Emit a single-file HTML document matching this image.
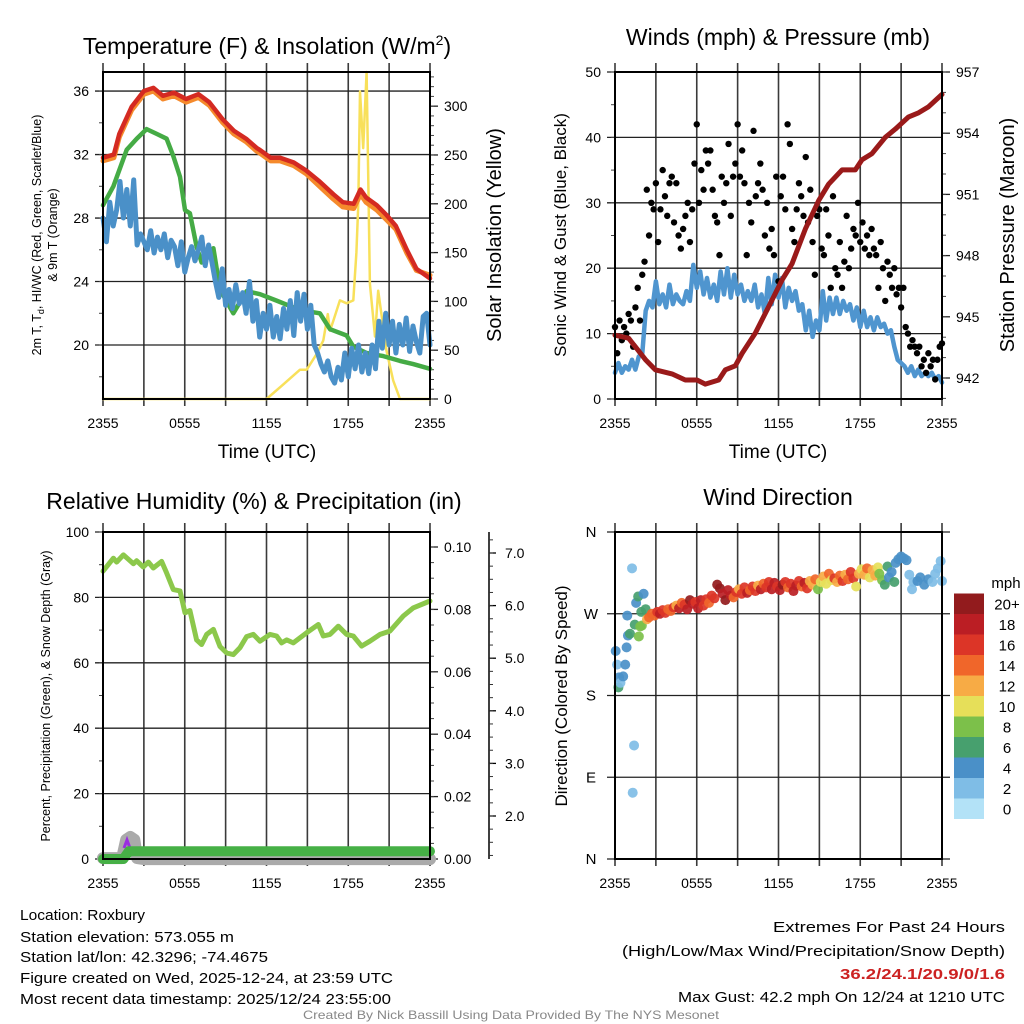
<!DOCTYPE html>
<html><head><meta charset="utf-8"><style>
html,body{margin:0;padding:0;background:#fff;}
svg{display:block;font-family:"Liberation Sans",Arial,sans-serif;}
</style></head><body>
<svg id="fig" width="1024" height="1024" viewBox="0 0 1024 1024" xmlns="http://www.w3.org/2000/svg">
<rect width="1024" height="1024" fill="#fff"/>
<text x="267" y="54" font-size="23" text-anchor="middle">Temperature (F) &amp; Insolation (W/m<tspan font-size="14" dy="-9">2</tspan><tspan dy="9">)</tspan></text>
<text x="778" y="45" font-size="23" text-anchor="middle">Winds (mph) &amp; Pressure (mb)</text>
<text x="254" y="509" font-size="23" text-anchor="middle">Relative Humidity (%) &amp; Precipitation (in)</text>
<text x="778" y="505" font-size="23" text-anchor="middle">Wind Direction</text>
<text x="267" y="458" font-size="19" text-anchor="middle">Time (UTC)</text>
<text x="778" y="458" font-size="19" text-anchor="middle">Time (UTC)</text>
<text transform="translate(41,235) rotate(-90)" font-size="12.5" text-anchor="middle">2m T, T<tspan font-size="9" dy="3">d</tspan><tspan dy="-3">, HI/WC (Red, Green, Scarlet/Blue)</tspan></text>
<text transform="translate(57,235) rotate(-90)" font-size="12.5" text-anchor="middle">&amp; 9m T (Orange)</text>
<text transform="translate(501,235) rotate(-90)" font-size="20" text-anchor="middle">Solar Insolation (Yellow)</text>
<text transform="translate(566,235) rotate(-90)" font-size="17" text-anchor="middle">Sonic Wind &amp; Gust (Blue, Black)</text>
<text transform="translate(1014,235) rotate(-90)" font-size="20" text-anchor="middle">Station Pressure (Maroon)</text>
<text transform="translate(50,696) rotate(-90)" font-size="12.5" text-anchor="middle">Percent, Precipitation (Green), &amp; Snow Depth (Gray)</text>
<text transform="translate(567,696) rotate(-90)" font-size="17" text-anchor="middle">Direction (Colored By Speed)</text>
<text x="20" y="920" font-size="15" textLength="125" lengthAdjust="spacingAndGlyphs">Location: Roxbury</text>
<text x="20" y="942" font-size="15" textLength="214" lengthAdjust="spacingAndGlyphs">Station elevation: 573.055 m</text>
<text x="20" y="962" font-size="15" textLength="248" lengthAdjust="spacingAndGlyphs">Station lat/lon: 42.3296; -74.4675</text>
<text x="20" y="983" font-size="15" textLength="373" lengthAdjust="spacingAndGlyphs">Figure created on Wed, 2025-12-24, at 23:59 UTC</text>
<text x="20" y="1004" font-size="15" textLength="371" lengthAdjust="spacingAndGlyphs">Most recent data timestamp: 2025/12/24 23:55:00</text>
<text x="1005" y="932" font-size="15" text-anchor="end" textLength="232" lengthAdjust="spacingAndGlyphs">Extremes For Past 24 Hours</text>
<text x="1005" y="956" font-size="15" text-anchor="end" textLength="383" lengthAdjust="spacingAndGlyphs">(High/Low/Max Wind/Precipitation/Snow Depth)</text>
<text x="1005" y="979" font-size="15" font-weight="bold" fill="#cc2222" text-anchor="end" textLength="165" lengthAdjust="spacingAndGlyphs">36.2/24.1/20.9/0/1.6</text>
<text x="1005" y="1002" font-size="15" text-anchor="end" textLength="327" lengthAdjust="spacingAndGlyphs">Max Gust: 42.2 mph On 12/24 at 1210 UTC</text>
<text x="511" y="1019" font-size="12" fill="#888" text-anchor="middle" textLength="416" lengthAdjust="spacingAndGlyphs">Created By Nick Bassill Using Data Provided By The NYS Mesonet</text>
</svg>
<script>
// ---------- data ----------
const xTickLabels = ["2355","0555","1155","1755","2355"];
const tempHours = [0,0.8,1.2,2.1,3.0,3.7,4.4,5.2,6.1,7.0,7.8,8.8,9.6,10.5,11.3,11.5,12.3,13.0,14.0,14.9,15.9,16.9,17.6,18.4,18.9,19.3,20.1,20.8,21.5,22.3,23.0,24];
const tempRed = [31.8,32.0,33.3,35.0,36.0,36.2,35.7,35.9,35.5,35.8,35.3,34.2,33.5,33.0,32.4,32.3,31.8,31.8,31.5,31.0,30.3,29.5,29.0,28.9,29.8,29.3,28.8,28.2,27.5,26.0,24.8,24.2];
const temp9m = [31.6,31.8,33.1,34.8,35.8,36.0,35.5,35.7,35.3,35.6,35.1,34.0,33.3,32.8,32.2,32.1,31.6,31.6,31.3,30.8,30.0,29.2,28.7,28.6,29.5,29.0,28.5,27.9,27.3,25.8,24.7,24.4];
const greenHours = [0,0.76,1.74,2.47,3.2,3.94,4.67,5.16,5.65,6.02,6.38,6.87,7.24,8.1,8.59,9.56,10.54,11.52,12.74,14.46,15.92,16.66,17.88,18.37,19.35,20.57,21.79,22.77,24];
const greenHiWc = [28.8,30.0,32.3,33.0,33.6,33.3,33.0,31.9,30.6,28.5,28.3,26.2,25.2,26.1,23.5,22.0,23.4,23.2,22.8,22.2,22.0,21.0,20.6,19.9,19.5,19.3,19.0,18.8,18.5];
const dewpoint = [28.0,26.5,29.0,27.5,28.5,30.3,28.0,29.8,27.5,
30.4,26.3,27.0,26.5,26.0,27.2,25.8,26.8,
26.0,27.0,25.5,26.6,26.2,25.0,26.5,24.6,
25.5,26.2,25.3,26.0,26.8,25.0,26.3,25.2,
24.0,23.0,24.8,22.5,23.5,22.3,23.8,22.6,
23.3,22.0,24.0,21.5,22.8,20.5,22.0,21.0,
22.5,20.5,21.8,20.4,22.3,21.0,22.8,20.6,
23.3,21.5,23.2,21.0,22.5,20.0,19.5,18.8,
18.3,19.0,18.0,17.6,18.6,17.8,19.5,18.0,
19.8,18.5,20.0,18.3,19.5,18.2,20.0,18.5,
21.5,19.8,22.0,20.0,21.5,19.5,21.3,20.0,
21.7,19.6,21.2,20.2,19.5,21.8,22.0,20.0];
const solarHours = [0,12.0,13.23,14.46,14.95,15.68,16.17,16.5,16.66,16.9,17.39,17.88,18.37,18.6,18.74,18.86,19.1,19.35,19.59,19.96,20.2,20.8,21.3,21.8,24];
const solar = [0,0,15,30,30,46,60,87,70,80,101,98,101,150,200,315,257,335,118,64,111,50,19,0,0];
const sonicWind = [4,5.5,4,5,4.5,6,4.5,6.5,7,
13.5,15,14,18,14.5,16,14,17.5,
14.5,16,15,14.5,16.5,15,20.5,17,
19.5,16,18.5,15.5,17.5,15,19.5,16,
20,15.5,19,16,17.5,15,16.5,15,
17.5,14,16,13,18.5,14.5,19,15.5,
18.5,14,17,15,16.5,13.5,14.5,10.5,
13.5,9.5,12,10.5,16.5,12,15.5,13,
15.5,13,15,13.5,14.5,12,14,11,
13.5,11,12.5,10.5,12.5,11,11.5,10,
10.5,8,6,5.5,5,4,5,3.5,
4.5,3.5,4,3.5,4,3,3.5,2.5];
const gusts = [11,7,12,9,11,10, 13,12,8,14,17,12, 19,21,32,25,30,29, 33,24,29,35,31,28,
33,34,27,33,25,23, 26,28,30,24,29,36, 42,30,35,32,38,36, 38,32,28,27,22,34,
30,33,39,28,34,36, 42,34,38,33,22,30, 27,41,31,33,36,32, 25,30,23,26,22,34,
18,31,34,29,42,39, 26,24,29,33,31,28, 37,27,32,24,19,28, 29,23,22,29,25,17,
31,20,19,24,17,21, 28,20,23,26,25,30, 24,27,23,25,22,26, 23,22,17,24,20,15,
21,19,17,20,16,17, 14,17,11,10,8,9, 8,7,8,5,6,4, 7,5,6,3,6,8, 8.5];
const presHours = [0,1.0,2.23,2.96,4.18,5.16,6.02,6.63,7.61,8.1,8.83,9.32,10.3,11.28,12.26,12.99,13.97,14.95,15.68,16.66,17.64,18.13,18.86,19.84,20.57,21.55,22.28,23.02,24];
const pressure = [944.1,943.95,942.9,942.4,942.2,941.9,941.9,941.7,941.9,942.4,942.6,943.2,944.2,945.5,946.8,947.6,949.3,950.7,951.5,952.2,952.2,952.7,953.0,953.8,954.2,954.8,955.0,955.3,955.9];
const rhHours = [0,0.76,1.0,1.5,2.23,2.47,2.96,3.33,3.69,4.3,4.67,5.16,5.65,6.02,6.38,6.87,7.24,7.61,8.1,8.59,9.08,9.56,10.05,10.54,11.03,11.52,12.26,12.74,13.11,13.48,13.97,14.95,15.8,16.17,16.66,17.27,17.88,18.37,18.98,19.59,20.33,21.06,22.04,22.77,24];
const rh = [88,92,90.8,93,90.3,91.2,89.3,90.8,89,91,87.5,82.4,82,75.3,76,67,65.6,68.7,70.2,65,63,62.5,64.6,68,68.7,66.6,68.7,68.2,66.1,67,66.1,69.2,71.7,68.2,68.7,71.2,68.7,68.2,65.1,66.6,68.7,69.7,74.3,76.8,78.9];
const precipHours = [0,1.5,1.9,24];
const precip = [0,0,0.0025,0.0025];
const snowHours = [0,1.4,1.7,2.0,2.3,2.5,3.0,24];
const snowDepth = [1.2,1.2,1.55,1.6,1.55,1.2,1.18,1.18];
const dirHours = [0.05,0.15,0.3,0.25,0.4,0.6,0.75,0.85,0.95,1.1,1.25,1.4,1.3,0.9,1.45,1.55,1.7,1.75,1.85,1.97,1.93,2.1,2.25,2.35,
2.5,2.7,2.9,3.1,3.3,3.5,3.7,3.9,4.1,4.3,4.5,4.7,4.9,5.1,5.3,5.5,5.7,5.9,6.1,6.3,6.5,6.7,6.9,7.1,7.3,7.5,7.7,7.9,8.1,8.3,8.5,8.7,8.9,9.1,9.3,9.5,9.7,9.9,10.1,10.3,10.5,10.7,10.9,11.1,11.3,11.5,11.7,11.9,12.1,12.3,12.5,12.7,12.9,13.1,13.3,13.5,13.7,13.9,14.1,14.3,14.5,14.7,14.9,15.1,15.3,15.5,15.7,15.9,16.1,16.3,16.5,16.7,16.9,17.1,17.3,17.5,17.7,17.9,18.1,18.3,18.5,18.7,18.9,19.1,19.3,19.4,19.6,19.8,20.0,20.1,20.3,20.5,20.6,20.8,21.0,21.2,21.4,21.6,21.8,21.9,22.2,22.4,22.7,23.0,23.3,23.5,23.7,23.9,24.0];
const dirDeg = [229,214,200,189,194,201,214,233,246,248,320,125,73,268,258,282,289,245,256,257,272,292,275,264,
266,270,268,272,270,274,271,275,273,277,279,276,282,280,275,285,281,283,276,285,279,286,282,290,287,302,298,292,285,296,290,288,294,297,292,299,293,296,300,295,301,297,303,299,305,297,304,300,296,302,305,299,303,295,301,306,300,304,298,306,302,308,297,305,311,303,314,307,309,305,312,306,313,308,316,309,300,314,319,313,320,310,318,312,321,314,307,302,322,310,316,305,326,330,333,331,329,313,297,305,306,310,302,308,305,314,320,328,306];
const dirSpeed = [4,3,4,6,3,4,4,4,5,6,2,2,2,4,7,4,6,8,8,8,6,4,6,13,
14,14,15,16,18,16,17,15,14,16,13,18,15,17,19,20,18,16,18,19,17,16,15,17,16,20,20,19,20,18,19,15,16,13,17,16,18,14,16,17,13,18,15,17,16,18,19,17,18,20,16,14,16,19,18,17,15,18,16,13,12,14,8,10,13,10,14,11,16,13,14,16,12,15,16,17,10,13,11,12,15,10,13,12,10,8,8,6,6,4,4,6,4,4,4,4,4,2,2,2,4,4,4,4,2,2,2,2,2];
const speedLabels = ["0","2","4","6","8","10","12","14","16","18","20+"];
const speedColors = ["#b3e2f7","#7fbde6","#4a90c8","#47a06e","#7cc04a","#e6df59","#f7ab45","#f0662a","#dc3527","#bb1e24","#921b1d"];

// ---------- helpers ----------
const NS = "http://www.w3.org/2000/svg";
const svg = document.getElementById("fig");
function add(parent, tag, attrs, name) {
  const el = document.createElementNS(NS, tag);
  for (const k in attrs) el.setAttribute(k, attrs[k]);
  
  
  parent.appendChild(el);
  return el;
}
function group(name) {
  const g = document.createElementNS(NS, "g");
  
  
  svg.appendChild(g);
  return g;
}
function linScale(d0, d1, r0, r1) { return v => r0 + (v - d0) / (d1 - d0) * (r1 - r0); }
function fmt(v, dec) { return v.toFixed(dec); }

function frame(g, x0, y0, x1, y1) {
  const xs = linScale(0, 24, x0, x1);
  for (let i = 0; i <= 8; i++) {
    const x = xs(i * 3);
    add(g, "line", {x1: x, y1: y0 - 9, x2: x, y2: y1 + 7, stroke: "#3a3a3a", "stroke-width": 1.6}, "x-grid-line");
  }
  xTickLabels.forEach((lab, i) => {
    const t = add(g, "text", {x: xs(i * 6), y: y1 + 29, "font-size": 14, "text-anchor": "middle"}, "x-tick-label");
    t.textContent = lab;
  });
  return xs;
}
function leftAxis(g, x0, x1, ys, ticks, minors, dec) {
  ticks.forEach(v => {
    const y = ys(v);
    add(g, "line", {x1: x0 - 8, y1: y, x2: x1, y2: y, stroke: "#222", "stroke-width": 1.3}, "y-grid-line");
    const t = add(g, "text", {x: x0 - 14, y: y + 5, "font-size": 14, "text-anchor": "end"}, "y-tick-label");
    t.textContent = fmt(v, dec);
  });
  minors.forEach(v => {
    const y = ys(v);
    add(g, "line", {x1: x0 - 4, y1: y, x2: x0, y2: y, stroke: "#444", "stroke-width": 1}, "y-minor-tick");
  });
}
function rightAxis(g, x1, ys, ticks, minors, dec) {
  ticks.forEach(v => {
    const y = ys(v);
    add(g, "line", {x1: x1, y1: y, x2: x1 + 8, y2: y, stroke: "#222", "stroke-width": 1.3}, "right-major-tick");
    const t = add(g, "text", {x: x1 + 14, y: y + 5, "font-size": 14}, "right-tick-label");
    t.textContent = fmt(v, dec);
  });
  minors.forEach(v => {
    const y = ys(v);
    add(g, "line", {x1: x1, y1: y, x2: x1 + 4, y2: y, stroke: "#444", "stroke-width": 1}, "right-minor-tick");
  });
}
function range(a, b, s) { const r = []; for (let v = a; v <= b + 1e-9; v += s) r.push(+v.toFixed(6)); return r; }
function border(g, x0, y0, x1, y1) {
  add(g, "rect", {x: x0, y: y0, width: x1 - x0, height: y1 - y0, fill: "none", stroke: "#000", "stroke-width": 2}, "plot-frame");
}
function polyline(g, hours, vals, xs, ys, color, w, name) {
  const pts = hours.map((h, i) => xs(h).toFixed(1) + "," + ys(vals[i]).toFixed(1)).join(" ");
  add(g, "polyline", {points: pts, fill: "none", stroke: color, "stroke-width": w, "stroke-linejoin": "round", "stroke-linecap": "round"}, name);
}
function idxHours(arr) { return arr.map((_, i) => i * 24 / (arr.length - 1)); }

// ---------- Panel 1: Temperature ----------
(function () {
  const g = group("temperature-chart");
  const x0 = 103, x1 = 430, y0 = 72, y1 = 399;
  const xs = frame(g, x0, y0, x1, y1);
  const ys = linScale(16.6, 37.2, y1, y0);
  const ysR = linScale(0, 335, y1, y0);
  leftAxis(g, x0, x1, ys, [20, 24, 28, 32, 36], range(18, 36, 2), 0);
  rightAxis(g, x1, ysR, range(0, 300, 50), range(0, 330, 10), 0);
  polyline(g, solarHours, solar, xs, ysR, "#f8e05a", 2.5, "solar-insolation-line");
  polyline(g, greenHours, greenHiWc, xs, ys, "#45ab45", 4.5, "hi-wc-line");
  polyline(g, idxHours(dewpoint), dewpoint, xs, ys, "#4a90c8", 5, "dewpoint-line");
  polyline(g, tempHours, temp9m, xs, ys, "#f58a2c", 5, "temp-9m-line");
  polyline(g, tempHours, tempRed, xs, ys, "#d42a22", 4.5, "temp-2m-line");
  border(g, x0, y0, x1, y1);
})();

// ---------- Panel 2: Winds & Pressure ----------
(function () {
  const g = group("wind-pressure-chart");
  const x0 = 615, x1 = 942, y0 = 72, y1 = 399;
  const xs = frame(g, x0, y0, x1, y1);
  const ys = linScale(0, 50, y1, y0);
  const ysR = linScale(942, 957, 378, 72);
  leftAxis(g, x0, x1, ys, range(0, 50, 10), range(0, 50, 5), 0);
  rightAxis(g, x1, ysR, range(942, 957, 3), range(941, 957, 1), 0);
  polyline(g, idxHours(sonicWind), sonicWind, xs, ys, "#4f95cf", 4.5, "sonic-wind-line");
  const gh = idxHours(gusts);
  gusts.forEach((v, i) => {
    add(g, "circle", {cx: xs(gh[i]), cy: ys(v), r: 3.2, fill: "#000"}, "gust-point");
  });
  polyline(g, presHours, pressure, xs, ysR, "#9a1a1a", 5, "pressure-line");
  border(g, x0, y0, x1, y1);
})();

// ---------- Panel 3: RH & Precip ----------
(function () {
  const g = group("humidity-precip-chart");
  const x0 = 103, x1 = 430, y0 = 532, y1 = 859;
  const xs = frame(g, x0, y0, x1, y1);
  const ys = linScale(0, 100, y1, y0);
  const ysP = linScale(0, 0.1, y1, 547);
  const ysS = linScale(2, 7, 816, 553);
  leftAxis(g, x0, x1, ys, range(0, 100, 20), range(0, 100, 10), 0);
  rightAxis(g, x1, ysP, range(0, 0.1, 0.02), range(0, 0.1, 0.005), 2);
  add(g, "line", {x1: 489, y1: 532, x2: 489, y2: 859, stroke: "#000", "stroke-width": 1.5}, "snow-axis-line");
  range(2, 7, 1).forEach(v => {
    add(g, "line", {x1: 489, y1: ysS(v), x2: 496, y2: ysS(v), stroke: "#000", "stroke-width": 1.3}, "snow-major-tick");
    const t = add(g, "text", {x: 505, y: ysS(v) + 5, "font-size": 14}, "snow-tick-label");
    t.textContent = fmt(v, 1);
  });
  range(1.25, 7.25, 0.25).forEach(v => {
    add(g, "line", {x1: 489, y1: ysS(v), x2: 493, y2: ysS(v), stroke: "#333", "stroke-width": 1}, "snow-minor-tick");
  });
  polyline(g, snowHours, snowDepth, xs, ysS, "#aaaaaa", 12, "snow-depth-line");
  add(g, "path", {d: "M124,848 L127,840 L130,848", fill: "none", stroke: "#9a2ee0", "stroke-width": 3}, "purple-marker");
  polyline(g, precipHours, precip, xs, ysP, "#46b046", 10, "precip-line");
  polyline(g, rhHours, rh, xs, ys, "#8cc84b", 5, "rh-line");
  border(g, x0, y0, x1, y1);
})();

// ---------- Panel 4: Wind Direction ----------
(function () {
  const g = group("wind-direction-chart");
  const x0 = 615, x1 = 942, y0 = 532, y1 = 859;
  const xs = frame(g, x0, y0, x1, y1);
  const ys = linScale(0, 360, y1, y0);
  const dirLabels = ["N", "E", "S", "W", "N"];
  dirLabels.forEach((lab, i) => {
    const y = ys(i * 90);
    add(g, "line", {x1: x0 - 8, y1: y, x2: x1 + 8, y2: y, stroke: "#222", "stroke-width": 1.3}, "direction-grid-line");
    const t = add(g, "text", {x: 591, y: y + 5, "font-size": 15, "text-anchor": "middle"}, "direction-tick-label");
    t.textContent = lab;
  });
  dirHours.forEach((h, i) => {
    const c = speedColors[Math.min(10, Math.floor(dirSpeed[i] / 2))];
    add(g, "circle", {cx: xs(h), cy: ys(dirDeg[i]), r: 5, fill: c, "fill-opacity": 0.92}, "direction-point");
  });
  border(g, x0, y0, x1, y1);
  const lg = group("speed-colorbar");
  const t0 = add(lg, "text", {x: 1006, y: 588, "font-size": 15, "text-anchor": "middle"}, "colorbar-title");
  t0.textContent = "mph";
  speedColors.forEach((c, i) => {
    const yb = 819 - (i + 1) * 20.5;
    add(lg, "rect", {x: 954, y: yb, width: 30, height: 20.5, fill: c}, "colorbar-box");
    const t = add(lg, "text", {x: 1007, y: yb + 16, "font-size": 15, "text-anchor": "middle"}, "colorbar-label");
    t.textContent = speedLabels[i];
  });
})();
</script>
</body></html>
